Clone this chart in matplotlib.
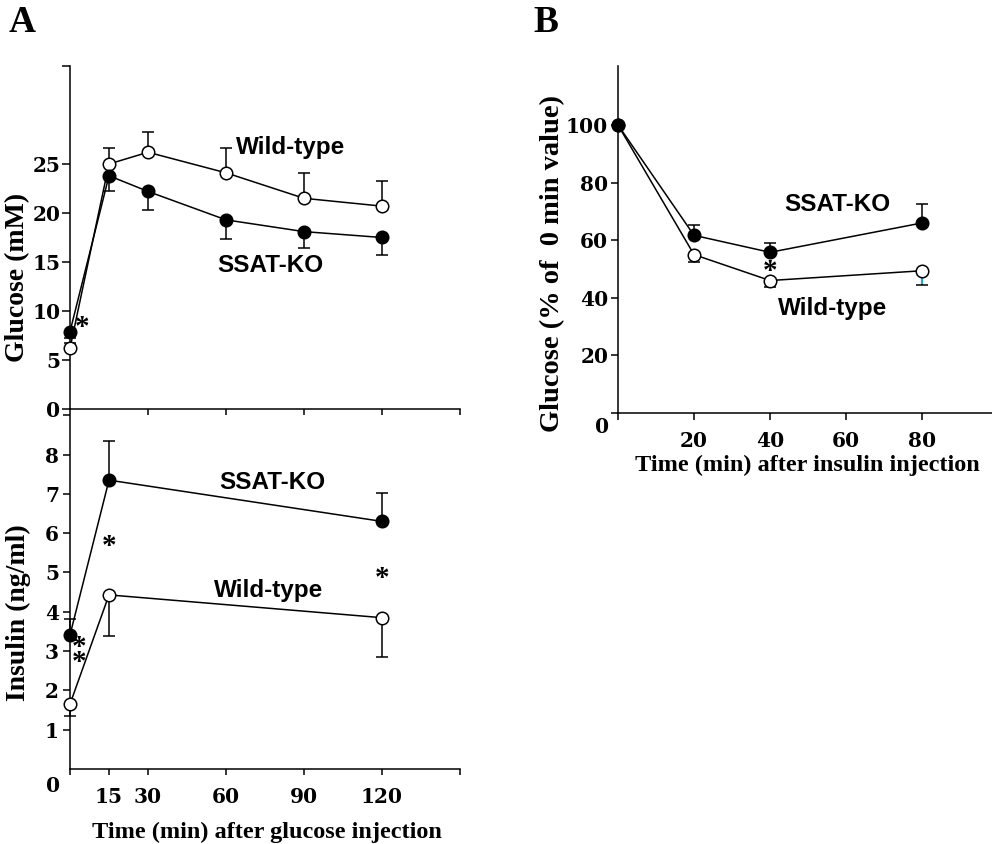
import matplotlib

matplotlib.use("Agg")
import matplotlib.pyplot as plt
from matplotlib.font_manager import FontProperties

W, H = 992, 844

# A (top): glucose tolerance test, glucose in mM
gtt_time = [0, 15, 30, 60, 90, 120]
gtt_wt = [6.2, 25.0, 26.2, 24.1, 21.5, 20.7]
gtt_wt_err = [0.5, 1.6, 2.1, 2.5, 2.6, 2.6]
gtt_ko = [7.9, 23.8, 22.2, 19.3, 18.1, 17.5]
gtt_ko_err = [0.7, 1.6, 1.9, 2.0, 1.7, 1.8]

# A (bottom): insulin during the same test, ng/ml
ins_time = [0, 15, 120]
ins_wt = [1.65, 4.43, 3.85]
ins_wt_err = [0.29, 1.05, 0.99]
ins_ko = [3.41, 7.35, 6.3]
ins_ko_err = [0.41, 1.0, 0.72]

# B: insulin tolerance test, % of the 0 min value
itt_time = [0, 20, 40, 80]
itt_wt = [100, 55.0, 46.0, 49.4]
itt_wt_err = [0, 2.7, 2.3, 5.1]
itt_ko = [100, 61.7, 55.8, 66.0]
itt_ko_err = [0, 3.7, 3.2, 6.7]

TICK_FONT = {"family": "DejaVu Serif", "weight": "bold", "size": 14.5}
LABEL_FONT = {"family": "Liberation Serif", "weight": "bold"}
SERIES_FONT = {"family": "Liberation Sans", "weight": "bold", "size": 17.5}
STAR_FONT = {"family": "Liberation Serif", "weight": "bold", "size": 21}


def px(x, y):
    return x / W, 1 - y / H


def axes_rect(left, top, right, bottom):
    return [left / W, 1 - bottom / H, (right - left) / W, (bottom - top) / H]


def draw_series(ax, x, y, err, filled, up):
    n = len(x)
    zeros = [0] * n
    yerr = [zeros, err] if up else [err, zeros]
    ax.errorbar(x, y, yerr=yerr, fmt="none", ecolor="black", elinewidth=1.1,
                capsize=4.5, capthick=1.1, zorder=2, clip_on=False)
    ax.plot(x, y, "-", color="black", lw=1.1, zorder=3, clip_on=False)
    ax.plot(x, y, "o", ms=9, mfc="black" if filled else "white",
            mec="black", mew=1.1, zorder=4, clip_on=False)


def style_axes(ax):
    for side in ("top", "right"):
        ax.spines[side].set_visible(False)
    for side in ("left", "bottom"):
        ax.spines[side].set_linewidth(1.1)
    for lab in ax.get_xticklabels() + ax.get_yticklabels():
        lab.set_fontproperties(FontProperties(**TICK_FONT))


fig = plt.figure(figsize=(W / 100, H / 100), dpi=100)

# ---- A bottom: insulin (made first so the glucose axes sit above it)
ax2 = fig.add_axes(axes_rect(70, 409, 460, 769))
ax2.patch.set_visible(False)
draw_series(ax2, ins_time, ins_ko, ins_ko_err, filled=True, up=True)
draw_series(ax2, ins_time, ins_wt, ins_wt_err, filled=False, up=False)
ax2.set_xlim(0, 150)
ax2.set_ylim(0, 9.16)
ax2.set_xticks([0, 15, 30, 60, 90, 120, 150])
ax2.set_xticklabels(["", "15", "30", "60", "90", "120", ""])
ax2.set_yticks([1, 2, 3, 4, 5, 6, 7, 8, 9])
ax2.set_yticklabels(["1", "2", "3", "4", "5", "6", "7", "8", ""])
ax2.tick_params(axis="x", direction="out", length=4, width=1.1, pad=9)
ax2.tick_params(axis="y", direction="out", length=5, width=1.1, pad=3)
style_axes(ax2)
ax2.text(78, 7.3, "SSAT-KO", ha="center", va="center", **SERIES_FONT)
ax2.text(76.5, 4.55, "Wild-type", ha="center", va="center", **SERIES_FONT)
ax2.text(15, 5.65, "*", ha="center", va="center", **STAR_FONT)
ax2.text(120, 4.85, "*", ha="center", va="center", **STAR_FONT)
ax2.text(3.6, 2.9, "*\n*", ha="center", va="center", linespacing=0.4,
         **STAR_FONT)
fig.text(*px(53, 786), "0", ha="center", va="center", **TICK_FONT)

# ---- A top: glucose
ax1 = fig.add_axes(axes_rect(70, 66, 460, 409))
ax1.patch.set_visible(False)
draw_series(ax1, gtt_time, gtt_wt, gtt_wt_err, filled=False, up=True)
draw_series(ax1, gtt_time, gtt_ko, gtt_ko_err, filled=True, up=False)
ax1.set_xlim(0, 150)
ax1.set_ylim(0, 34.9)
ax1.set_xticks([30, 60, 90, 120, 150])
ax1.set_xticklabels([])
ax1.set_yticks([0, 5, 10, 15, 20, 25, 35])
ax1.set_yticklabels(["0", "5", "10", "15", "20", "25", ""])
ax1.tick_params(axis="x", direction="out", length=4, width=1.1)
ax1.tick_params(axis="y", direction="out", length=6, width=1.1, pad=1)
style_axes(ax1)
ax1.text(85, 26.7, "Wild-type", ha="center", va="center", **SERIES_FONT)
ax1.text(77, 14.6, "SSAT-KO", ha="center", va="center", **SERIES_FONT)
ax1.text(4.6, 8.3, "*", ha="center", va="center", **STAR_FONT)

# ---- B: insulin tolerance
ax3 = fig.add_axes(axes_rect(618, 66, 992, 413))
draw_series(ax3, itt_time, itt_wt, itt_wt_err, filled=False, up=False)
draw_series(ax3, itt_time, itt_ko, itt_ko_err, filled=True, up=True)
# the lower bar of the last wild-type point is drawn in light blue
ax3.vlines(itt_time[-1], itt_wt[-1] - itt_wt_err[-1] + 0.4, itt_wt[-1] - 1.5,
           color="#1ea6dc", lw=1.6, zorder=2.5)
ax3.set_xlim(0, 98.4)
ax3.set_ylim(0, 120.5)
ax3.set_xticks([0, 20, 40, 60, 80])
ax3.set_xticklabels(["", "20", "40", "60", "80"])
ax3.set_yticks([0, 20, 40, 60, 80, 100])
ax3.set_yticklabels(["", "20", "40", "60", "80", "100"])
ax3.tick_params(axis="x", direction="out", length=5, width=1.1, pad=8)
ax3.tick_params(axis="y", direction="out", length=5, width=1.1, pad=2)
style_axes(ax3)
ax3.text(57.8, 72.3, "SSAT-KO", ha="center", va="center", **SERIES_FONT)
ax3.text(56.4, 36.2, "Wild-type", ha="center", va="center", **SERIES_FONT)
ax3.text(40, 49.2, "*", ha="center", va="center", **STAR_FONT)
fig.text(*px(602, 427), "0", ha="center", va="center", **TICK_FONT)

# axis titles and panel letters
fig.text(*px(18, 277), "Glucose (mM)", rotation=90, ha="center", va="center",
         fontsize=20, **LABEL_FONT)
fig.text(*px(18, 613), "Insulin (ng/ml)", rotation=90, ha="center", va="center",
         fontsize=20, **LABEL_FONT)
fig.text(*px(267, 832), "Time (min) after glucose injection", ha="center",
         va="center", fontsize=17.5, **LABEL_FONT)
fig.text(*px(553, 263), "Glucose (% of  0 min value)", rotation=90, ha="center",
         va="center", fontsize=20.5, **LABEL_FONT)
fig.text(*px(807, 465), "Time (min) after insulin injection", ha="center",
         va="center", fontsize=17.5, **LABEL_FONT)
fig.text(*px(22, 23), "A", ha="center", va="center", fontsize=27, **LABEL_FONT)
fig.text(*px(546, 22), "B", ha="center", va="center", fontsize=27, **LABEL_FONT)

fig.savefig("out.png", dpi=100)
